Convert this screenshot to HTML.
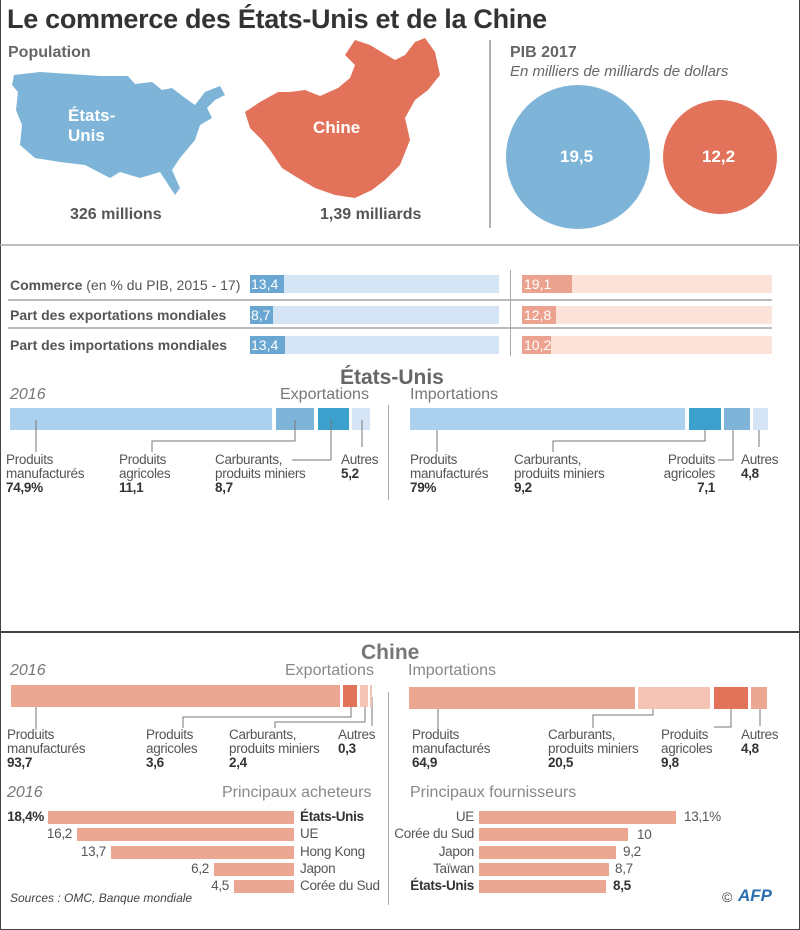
<!DOCTYPE html>
<html><head><meta charset="utf-8"><style>
*{margin:0;padding:0;box-sizing:border-box}
body{width:800px;height:930px;background:#fff;position:relative;overflow:hidden;font-family:"Liberation Sans Narrow","Liberation Sans",sans-serif;color:#555}
.a{position:absolute;white-space:nowrap}
.b{font-weight:bold}
.i{font-style:italic}
.r{position:absolute}
.l{position:absolute;background:#888}
.t{font-size:13.5px;line-height:14px;color:#555;letter-spacing:-0.3px}
.t b{color:#333}
.ra{text-align:right}
</style></head><body>
<div class="r" style="left:0;top:0;width:800px;height:930px;border:1px solid #444;border-top:none"></div>
<div class="r" style="left:0;top:631px;width:800px;height:2px;background:#444"></div>

<div class="a b" style="left:7px;top:4px;font-size:27px;color:#333;letter-spacing:-0.3px">Le commerce des États-Unis et de la Chine</div>
<div class="a b" style="left:8px;top:44px;font-size:16px;color:#666">Population</div>

<svg class="r" style="left:0;top:0" width="800" height="260">
<path d="M14,75 L12,85 18,92 16,110 22,125 20,145 35,158 60,162 85,165 110,178 120,172 140,178 160,172 175,195 180,188 172,170 180,158 195,140 200,125 212,118 207,108 215,100 225,95 220,86 205,92 195,105 185,98 172,88 162,90 152,82 135,84 128,76 100,76 70,74 40,72 Z" fill="#7db4d8"/>
<path d="M355,40 L370,45 395,60 405,55 415,42 425,38 435,52 440,75 428,90 415,100 405,118 410,140 400,165 385,180 372,190 355,198 335,195 315,188 298,178 282,168 270,150 262,140 250,128 245,112 260,102 278,92 290,92 305,90 320,96 338,88 350,78 355,65 345,55 Z" fill="#e2735a"/>
<line x1="490" y1="40" x2="490" y2="228" stroke="#999" stroke-width="1.5"/>
<circle cx="578" cy="157" r="72" fill="#7db4d8"/>
<circle cx="720" cy="157" r="57" fill="#e2735a"/>
<line x1="0" y1="245" x2="800" y2="245" stroke="#aaa" stroke-width="1.5"/>
</svg>
<div class="a b" style="left:68px;top:106px;font-size:17px;color:#fff;line-height:20px">États-<br>Unis</div>
<div class="a b" style="left:313px;top:118px;font-size:17px;color:#fff">Chine</div>
<div class="a b" style="left:70px;top:206px;font-size:16px">326 millions</div>
<div class="a b" style="left:320px;top:206px;font-size:16px">1,39 milliards</div>
<div class="a b" style="left:510px;top:44px;font-size:16px;color:#666">PIB 2017</div>
<div class="a i" style="left:510px;top:63px;font-size:15px;color:#666">En milliers de milliards de dollars</div>
<div class="a b" style="left:560px;top:147px;font-size:17px;color:#fff">19,5</div>
<div class="a b" style="left:702px;top:147px;font-size:17px;color:#fff">12,2</div>

<div class="l" style="left:8px;top:299px;width:764px;height:2px;background:#bbb"></div>
<div class="l" style="left:8px;top:327px;width:764px;height:2px;background:#bbb"></div>
<div class="l" style="left:510px;top:270px;width:1px;height:86px;background:#aaa"></div>
<div class="a" style="left:10px;top:277px;font-size:14px"><b>Commerce</b> (en % du PIB, 2015 - 17)</div>
<div class="a b" style="left:10px;top:307px;font-size:14px">Part des exportations mondiales</div>
<div class="a b" style="left:10px;top:337px;font-size:14px">Part des importations mondiales</div>

<div class="r" style="left:250px;top:275px;width:249px;height:18px;background:#d5e5f5"></div>
<div class="r" style="left:250px;top:275px;width:34px;height:18px;background:#6aa6d2"></div>
<div class="a" style="left:251px;top:276px;font-size:14px;color:#fff">13,4</div>
<div class="r" style="left:250px;top:306px;width:249px;height:18px;background:#d5e5f5"></div>
<div class="r" style="left:250px;top:306px;width:23px;height:18px;background:#6aa6d2"></div>
<div class="a" style="left:251px;top:307px;font-size:14px;color:#fff">8,7</div>
<div class="r" style="left:250px;top:336px;width:249px;height:18px;background:#d5e5f5"></div>
<div class="r" style="left:250px;top:336px;width:35px;height:18px;background:#6aa6d2"></div>
<div class="a" style="left:251px;top:337px;font-size:14px;color:#fff">13,4</div>

<div class="r" style="left:522px;top:275px;width:250px;height:18px;background:#fce3da"></div>
<div class="r" style="left:522px;top:275px;width:50px;height:18px;background:#eba28f"></div>
<div class="a" style="left:524px;top:276px;font-size:14px;color:#fff">19,1</div>
<div class="r" style="left:522px;top:306px;width:250px;height:18px;background:#fce3da"></div>
<div class="r" style="left:522px;top:306px;width:34px;height:18px;background:#eba28f"></div>
<div class="a" style="left:524px;top:307px;font-size:14px;color:#fff">12,8</div>
<div class="r" style="left:522px;top:336px;width:250px;height:18px;background:#fce3da"></div>
<div class="r" style="left:522px;top:336px;width:29px;height:18px;background:#eba28f"></div>
<div class="a" style="left:524px;top:337px;font-size:14px;color:#fff">10,2</div>

<div class="a b" style="left:340px;top:366px;font-size:21px;color:#666">États-Unis</div>
<div class="a i" style="left:10px;top:386px;font-size:16px;color:#777">2016</div>
<div class="a" style="left:280px;top:386px;font-size:16px;color:#777">Exportations</div>
<div class="a" style="left:410px;top:386px;font-size:16px;color:#777">Importations</div>
<div class="l" style="left:388px;top:405px;width:1px;height:95px;background:#aaa"></div>

<div class="r" style="left:10px;top:408px;width:262px;height:22px;background:#acd1ee"></div>
<div class="r" style="left:276px;top:408px;width:38px;height:22px;background:#7db4d8"></div>
<div class="r" style="left:318px;top:408px;width:31px;height:22px;background:#3ba0cb"></div>
<div class="r" style="left:352px;top:408px;width:18px;height:22px;background:#d5e5f5"></div>
<svg class="r" style="left:0;top:0" width="800" height="930" fill="none" stroke="#777" stroke-width="1">
<path d="M36,420V452 M295,420V441H152V452 M331,420V460H292 M362,420V447"/>
<path d="M437,420V452 M705,420V441H553V452 M733,420V460H718 M759,420V447"/>
<path d="M36,697V730 M351,697V717H183V728 M365,697V722H275V728 M372,697V726"/>
<path d="M438,697V730 M653,697V715H593V728 M731,697V727H714 M760,697V726"/>
</svg>
<div class="a t" style="left:6px;top:453px">Produits<br>manufacturés<br><b>74,9%</b></div>
<div class="a t" style="left:119px;top:453px">Produits<br>agricoles<br><b>11,1</b></div>
<div class="a t" style="left:215px;top:453px">Carburants,<br>produits miniers<br><b>8,7</b></div>
<div class="a t" style="left:341px;top:453px">Autres<br><b>5,2</b></div>

<div class="r" style="left:410px;top:408px;width:275px;height:22px;background:#acd1ee"></div>
<div class="r" style="left:689px;top:408px;width:32px;height:22px;background:#3ba0cb"></div>
<div class="r" style="left:724px;top:408px;width:26px;height:22px;background:#7db4d8"></div>
<div class="r" style="left:753px;top:408px;width:15px;height:22px;background:#d5e5f5"></div>
<div class="a t" style="left:410px;top:453px">Produits<br>manufacturés<br><b>79%</b></div>
<div class="a t" style="left:514px;top:453px">Carburants,<br>produits miniers<br><b>9,2</b></div>
<div class="a t ra" style="left:640px;top:453px;width:75px">Produits<br>agricoles<br><b>7,1</b></div>
<div class="a t" style="left:741px;top:453px">Autres<br><b>4,8</b></div>

<div class="a b" style="left:361px;top:641px;font-size:21px;color:#777">Chine</div>
<div class="a i" style="left:10px;top:662px;font-size:16px;color:#777">2016</div>
<div class="a" style="left:285px;top:662px;font-size:16px;color:#888">Exportations</div>
<div class="a" style="left:408px;top:662px;font-size:16px;color:#888">Importations</div>
<div class="l" style="left:388px;top:692px;width:1px;height:213px;background:#aaa"></div>

<div class="r" style="left:11px;top:685px;width:329px;height:22px;background:#eca792"></div>
<div class="r" style="left:343px;top:685px;width:14px;height:22px;background:#e2735a"></div>
<div class="r" style="left:360px;top:685px;width:8px;height:22px;background:#f5c4b4"></div>
<div class="r" style="left:370px;top:685px;width:2px;height:22px;background:#f5c4b4"></div>
<div class="a t" style="left:7px;top:728px">Produits<br>manufacturés<br><b>93,7</b></div>
<div class="a t" style="left:146px;top:728px">Produits<br>agricoles<br><b>3,6</b></div>
<div class="a t" style="left:229px;top:728px">Carburants,<br>produits miniers<br><b>2,4</b></div>
<div class="a t" style="left:338px;top:728px">Autres<br><b>0,3</b></div>

<div class="r" style="left:409px;top:687px;width:226px;height:22px;background:#eca792"></div>
<div class="r" style="left:638px;top:687px;width:72px;height:22px;background:#f5c4b4"></div>
<div class="r" style="left:714px;top:687px;width:34px;height:22px;background:#e2735a"></div>
<div class="r" style="left:751px;top:687px;width:16px;height:22px;background:#eca792"></div>
<div class="a t" style="left:412px;top:728px">Produits<br>manufacturés<br><b>64,9</b></div>
<div class="a t" style="left:548px;top:728px">Carburants,<br>produits miniers<br><b>20,5</b></div>
<div class="a t" style="left:661px;top:728px">Produits<br>agricoles<br><b>9,8</b></div>
<div class="a t" style="left:741px;top:728px">Autres<br><b>4,8</b></div>

<div class="a i" style="left:7px;top:784px;font-size:16px;color:#777">2016</div>
<div class="a" style="left:222px;top:784px;font-size:16px;color:#888">Principaux acheteurs</div>
<div class="a" style="left:410px;top:784px;font-size:16px;color:#888">Principaux fournisseurs</div>

<div class="r" style="left:48px;top:811px;width:246px;height:13px;background:#eca792"></div>
<div class="r" style="left:77px;top:828px;width:217px;height:13px;background:#eca792"></div>
<div class="r" style="left:111px;top:846px;width:183px;height:13px;background:#eca792"></div>
<div class="r" style="left:214px;top:863px;width:80px;height:13px;background:#eca792"></div>
<div class="r" style="left:234px;top:880px;width:60px;height:13px;background:#eca792"></div>
<div class="a t b ra" style="left:0;top:810px;width:44px;color:#333">18,4%</div>
<div class="a t ra" style="left:20px;top:827px;width:52px">16,2</div>
<div class="a t ra" style="left:50px;top:845px;width:56px">13,7</div>
<div class="a t ra" style="left:150px;top:862px;width:59px">6,2</div>
<div class="a t ra" style="left:170px;top:879px;width:59px">4,5</div>
<div class="a t b" style="left:300px;top:810px;color:#333">États-Unis</div>
<div class="a t" style="left:300px;top:827px">UE</div>
<div class="a t" style="left:300px;top:845px">Hong Kong</div>
<div class="a t" style="left:300px;top:862px">Japon</div>
<div class="a t" style="left:300px;top:879px">Corée du Sud</div>

<div class="r" style="left:479px;top:811px;width:197px;height:13px;background:#eca792"></div>
<div class="r" style="left:479px;top:828px;width:149px;height:13px;background:#eca792"></div>
<div class="r" style="left:479px;top:846px;width:137px;height:13px;background:#eca792"></div>
<div class="r" style="left:479px;top:863px;width:130px;height:13px;background:#eca792"></div>
<div class="r" style="left:479px;top:880px;width:127px;height:13px;background:#eca792"></div>
<div class="a t ra" style="left:380px;top:810px;width:94px">UE</div>
<div class="a t ra" style="left:380px;top:827px;width:94px">Corée du Sud</div>
<div class="a t ra" style="left:380px;top:845px;width:94px">Japon</div>
<div class="a t ra" style="left:380px;top:862px;width:94px">Taïwan</div>
<div class="a t b ra" style="left:380px;top:879px;width:94px;color:#333">États-Unis</div>
<div class="a t" style="left:684px;top:810px">13,1%</div>
<div class="a t" style="left:637px;top:828px">10</div>
<div class="a t" style="left:623px;top:845px">9,2</div>
<div class="a t" style="left:615px;top:862px">8,7</div>
<div class="a t b" style="left:613px;top:879px;color:#333">8,5</div>

<div class="a i" style="left:10px;top:891px;font-size:12px;color:#444">Sources : OMC, Banque mondiale</div>
<div class="a" style="left:722px;top:889px;font-size:14px;color:#444">©</div>
<div class="a b i" style="left:738px;top:886px;font-size:17px;color:#2a6fb0">AFP</div>
</body></html>
